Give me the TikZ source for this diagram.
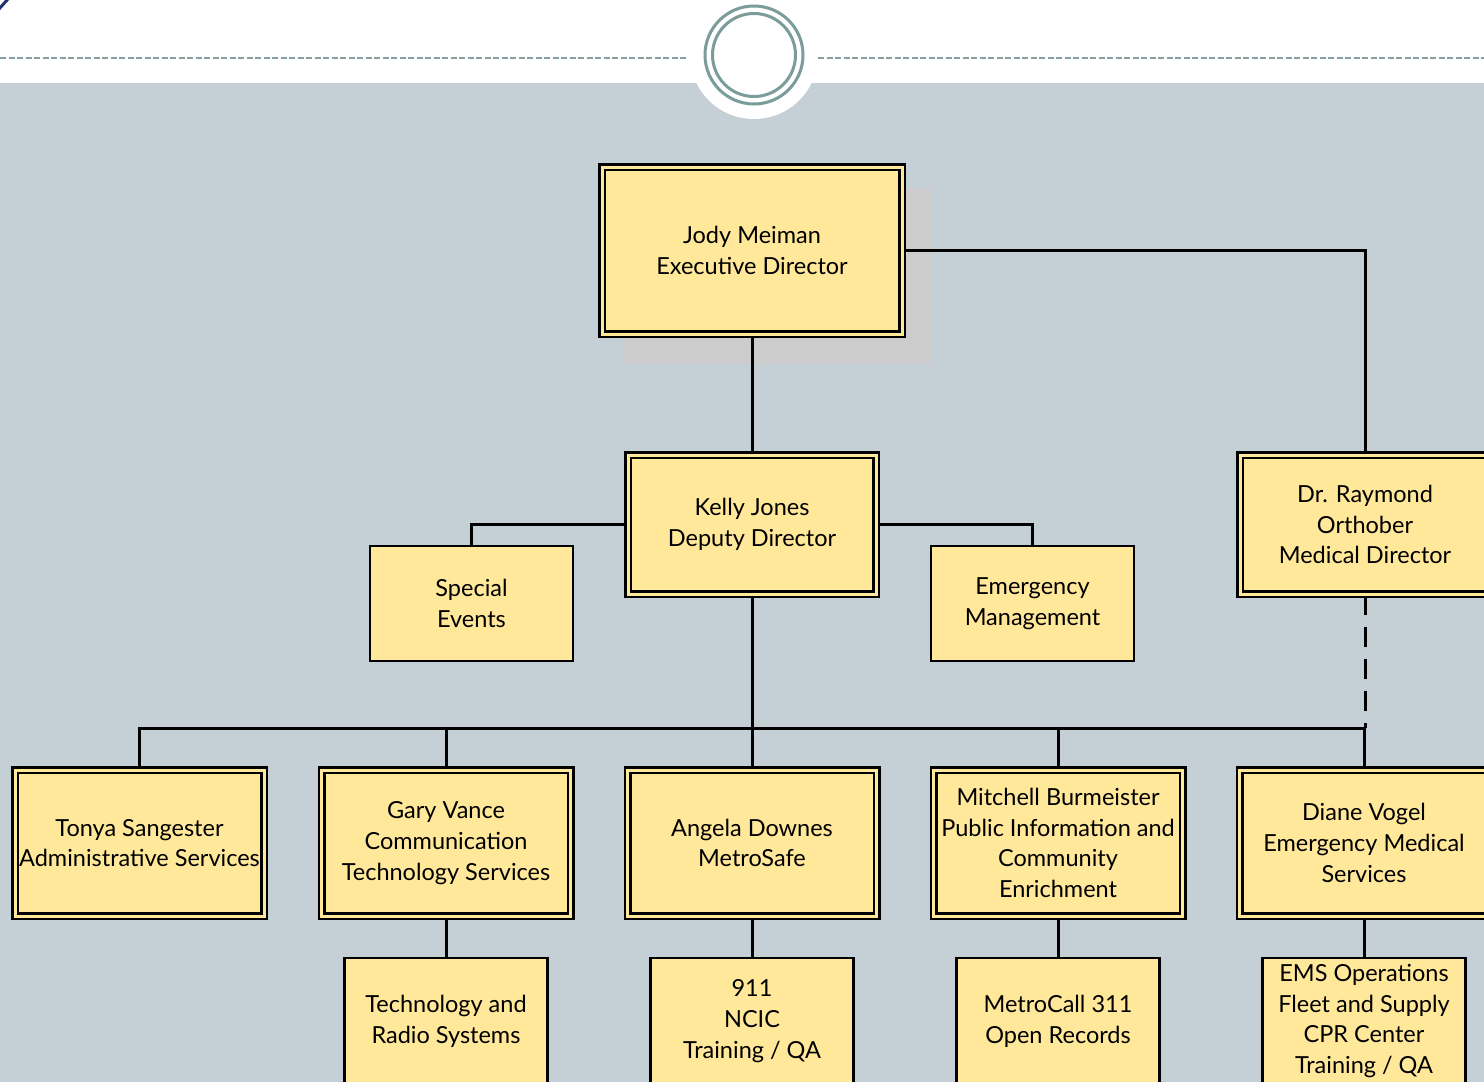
\documentclass[tikz,border=0pt]{standalone}
\usepackage{fontspec}
\setmainfont{Lato}
\definecolor{bgblue}{HTML}{C5D0D6}
\definecolor{boxfill}{HTML}{FFE89A}
\definecolor{ringc}{HTML}{7A9C9A}
\definecolor{dashc}{HTML}{85A0A0}
\definecolor{navy}{HTML}{1F3370}
\definecolor{shadowc}{HTML}{CCCCCC}
\pgfdeclarelayer{back}
\pgfdeclarelayer{bg}
\pgfsetlayers{back,bg,main}
\begin{document}
\begin{tikzpicture}[x=1pt,y=-1pt,
  boxtext/.style={align=center, inner sep=0pt, text=black, font=\fontsize{23.5}{30.7}\selectfont},
  dbox/.style={boxtext, draw=black, line width=2.5pt, double=boxfill, double distance=3pt, fill=boxfill},
  sbox/.style={boxtext, draw=black, line width=2.8pt, fill=boxfill},
  conn/.style={draw=black, line width=3pt},
  dconn/.style={conn, dash pattern=on 20pt off 12pt}]
\useasboundingbox (0,0) rectangle (1484,1082);

% nodes
\node[dbox, minimum width=300, minimum height=167] (jody) at (752,250.5) {Jody Meiman\\Executive Director};
\node[dbox, minimum width=248, minimum height=139] (kelly) at (752,524.5) {Kelly Jones\\Deputy Director};
\node[dbox, minimum width=250, minimum height=139] (ray) at (1365,524.5) {Dr. Raymond\\Orthober\\Medical Director};
\node[sbox, minimum width=203, minimum height=115] (spec) at (471.5,603.5) {Special\\Events};
\node[sbox, minimum width=203, minimum height=115] (emer) at (1032.5,603.5) {Emergency\\Management};

\node[dbox, minimum width=249, minimum height=146] (tonya) at (139.5,843) {Tonya Sangester\\Administrative Services};
\node[dbox, minimum width=249, minimum height=146] (gary) at (446,843) {Gary Vance\\Communication\\Technology Services};
\node[dbox, minimum width=249, minimum height=146] (angela) at (752,843) {Angela Downes\\MetroSafe};
\node[dbox, minimum width=249, minimum height=146] (mitch) at (1058,843) {Mitchell Burmeister\\Public Information and\\Community\\Enrichment};
\node[dbox, minimum width=249, minimum height=146] (diane) at (1364,843) {Diane Vogel\\Emergency Medical\\Services};

\node[sbox, minimum width=203, minimum height=126] (tech) at (446,1021) {Technology and\\Radio Systems};
\node[sbox, minimum width=203, minimum height=126] (n911) at (752,1021) {911\\NCIC\\Training / QA};
\node[sbox, minimum width=203, minimum height=126] (metro) at (1058,1021) {MetroCall 311\\Open Records};
\node[sbox, minimum width=203, minimum height=126] (ems) at (1364,1021) {EMS Operations\\Fleet and Supply\\CPR Center\\Training / QA};

\coordinate (bus) at (752,728);

\begin{pgfonlayer}{back}
  \fill[white] (0,0) rectangle (1484,1082);
  \fill[bgblue] (0,83) rectangle (1484,1082);
  \draw[dashc, line width=2.5pt, dash pattern=on 6pt off 2.5pt] (0,58) -- (688,58);
  \draw[dashc, line width=2.5pt, dash pattern=on 6pt off 2.5pt] (818,58) -- (1484,58);
  \fill[white] (754,55) circle[radius=64];
  \draw[ringc, line width=3pt] (754,55) circle[radius=49];
  \draw[ringc, line width=3pt] (754,55) circle[radius=41.5];
  \draw[navy, line width=3pt] (-1,9) -- (8,-1);
  \fill[shadowc] (623,188) rectangle (932,364);
\end{pgfonlayer}

\begin{pgfonlayer}{bg}
  \draw[conn] (jody.south) -- (kelly.north);
  \draw[conn] (jody.east) -| (ray.north);
  \draw[conn] (kelly.west) -| (spec.north);
  \draw[conn] (kelly.east) -| (emer.north);
  \draw[conn] (kelly.south) -- (bus);
  \draw[conn] (tonya.north) |- (bus) -| (diane.north);
  \draw[conn] (gary.north) -- (gary.north |- bus);
  \draw[conn] (mitch.north) -- (mitch.north |- bus);
  \draw[conn] (bus) -- (angela.north);
  \draw[dconn] (ray.south) -- (ray.south |- bus);
  \draw[conn] (gary.south) -- (tech.north);
  \draw[conn] (angela.south) -- (n911.north);
  \draw[conn] (mitch.south) -- (metro.north);
  \draw[conn] (diane.south) -- (ems.north);
\end{pgfonlayer}
\end{tikzpicture}
\end{document}
